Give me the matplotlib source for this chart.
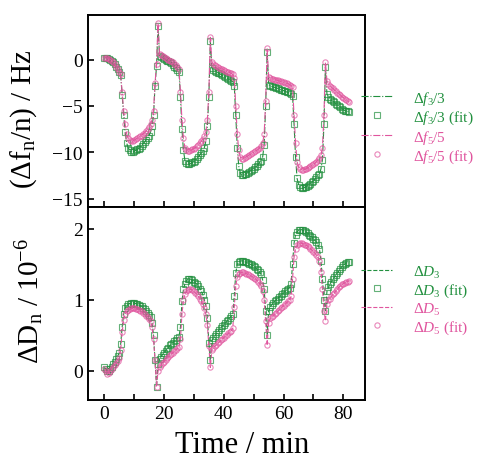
import matplotlib
matplotlib.use('Agg')
import matplotlib.pyplot as plt
import numpy as np

plt.rcParams['font.family'] = 'Liberation Serif'
plt.rcParams['mathtext.fontset'] = 'custom'
plt.rcParams['mathtext.rm'] = 'Liberation Serif'
plt.rcParams['mathtext.it'] = 'Liberation Serif:italic'

# time grid of the readings (min), one reading every 0.5 min
time = np.arange(0, 82.5, 0.5)

# frequency shift of 3rd overtone, divided by 3 (Hz)
df3 = [0.2, 0.2, 0.15, 0.1, 0.0, -0.1, -0.3, -0.5, -0.8, -1.0,
       -1.3, -1.7, -3.8, -6.0, -7.8, -9.0, -9.5, -9.8, -10.0, -10.0,
       -9.9, -9.8, -9.7, -9.6, -9.5, -9.3, -9.1, -8.9, -8.7, -8.5,
       -8.2, -7.8, -7.2, -6.0, -2.8, -0.7, 3.6, 0.4, 0.3, 0.2,
       0.1, 0.0, -0.1, -0.2, -0.3, -0.4, -0.6, -0.8, -0.9, -1.1,
       -1.3, -4.0, -7.5, -9.8, -10.9, -11.2, -11.3, -11.3, -11.2, -11.1,
       -11.0, -10.9, -10.7, -10.5, -10.3, -10.1, -9.9, -9.5, -8.8, -7.2,
       -4.0, 2.0, -0.9, -1.1, -1.2, -1.3, -1.4, -1.5, -1.6, -1.7,
       -1.8, -1.9, -2.0, -2.1, -2.2, -2.3, -2.4, -2.8, -6.0, -9.5,
       -11.5, -12.2, -12.5, -12.5, -12.4, -12.3, -12.2, -12.1, -12.0, -11.9,
       -11.8, -11.6, -11.5, -11.3, -11.1, -10.9, -10.5, -9.2, -5.0, 0.8,
       -2.7, -2.8, -2.9, -2.95, -3.0, -3.05, -3.1, -3.2, -3.25, -3.3,
       -3.35, -3.4, -3.5, -3.55, -3.6, -3.7, -3.9, -7.0, -10.5, -12.8,
       -13.5, -13.8, -13.9, -13.9, -13.8, -13.7, -13.6, -13.5, -13.4, -13.2,
       -13.1, -12.9, -12.7, -12.5, -12.3, -11.8, -10.8, -7.0, -0.8, -3.7,
       -4.0, -4.2, -4.4, -4.5, -4.6, -4.8, -4.9, -5.0, -5.1, -5.3,
       -5.4, -5.5, -5.6, -5.6, -5.7]

# frequency shift of 5th overtone, divided by 5 (Hz)
df5 = [0.2, 0.2, 0.15, 0.1, 0.0, -0.1, -0.3, -0.5, -0.8, -1.0,
       -1.3, -1.6, -3.5, -5.5, -7.0, -8.0, -8.5, -8.7, -8.8, -8.8,
       -8.7, -8.6, -8.5, -8.4, -8.3, -8.2, -8.0, -7.9, -7.7, -7.5,
       -7.3, -7.0, -6.5, -5.5, -2.5, -0.5, 4.0, 0.6, 0.5, 0.4,
       0.3, 0.2, 0.1, 0.0, -0.1, -0.2, -0.3, -0.5, -0.6, -0.8,
       -1.0, -3.5, -6.5, -8.5, -9.5, -9.8, -9.9, -9.9, -9.8, -9.7,
       -9.6, -9.5, -9.3, -9.2, -9.0, -8.8, -8.6, -8.3, -7.8, -6.5,
       -3.5, 2.4, -0.3, -0.5, -0.6, -0.7, -0.8, -0.9, -1.0, -1.0,
       -1.1, -1.2, -1.3, -1.3, -1.4, -1.5, -1.6, -2.0, -5.0, -8.0,
       -9.8, -10.5, -10.7, -10.7, -10.6, -10.5, -10.4, -10.3, -10.2, -10.1,
       -10.0, -9.9, -9.8, -9.7, -9.5, -9.3, -9.0, -8.0, -4.5, 1.2,
       -1.9, -2.0, -2.05, -2.1, -2.15, -2.2, -2.25, -2.3, -2.35, -2.4,
       -2.45, -2.5, -2.55, -2.6, -2.7, -2.8, -3.0, -6.0, -9.0, -11.0,
       -11.6, -11.8, -11.9, -11.9, -11.85, -11.8, -11.7, -11.6, -11.5, -11.4,
       -11.3, -11.2, -11.0, -10.8, -10.6, -10.3, -9.5, -6.0, -0.3, -2.3,
       -2.6, -2.8, -3.0, -3.1, -3.3, -3.4, -3.6, -3.7, -3.8, -4.0,
       -4.1, -4.3, -4.4, -4.5, -4.6]

# dissipation shift, 3rd overtone (1e-6)
dD3 = [0.05, 0.03, 0.0, 0.0, 0.03, 0.06, 0.10, 0.13, 0.17, 0.21,
       0.25, 0.38, 0.62, 0.80, 0.88, 0.92, 0.94, 0.95, 0.96, 0.96,
       0.96, 0.95, 0.94, 0.93, 0.92, 0.91, 0.89, 0.87, 0.85, 0.82,
       0.79, 0.76, 0.68, 0.50, 0.15, -0.22, 0.10, 0.17, 0.20, 0.23,
       0.26, 0.28, 0.31, 0.33, 0.36, 0.38, 0.40, 0.42, 0.44, 0.46,
       0.48, 0.62, 0.98, 1.15, 1.23, 1.27, 1.29, 1.30, 1.29, 1.28,
       1.26, 1.24, 1.22, 1.19, 1.16, 1.12, 1.07, 1.00, 0.92, 0.75,
       0.40, 0.15, 0.43, 0.46, 0.49, 0.52, 0.55, 0.58, 0.61, 0.63,
       0.65, 0.67, 0.70, 0.72, 0.75, 0.77, 0.80, 1.05, 1.38, 1.50,
       1.53, 1.55, 1.55, 1.55, 1.54, 1.53, 1.52, 1.51, 1.50, 1.49,
       1.48, 1.46, 1.44, 1.42, 1.39, 1.36, 1.28, 1.15, 0.85, 0.50,
       0.85, 0.90, 0.93, 0.96, 0.98, 1.00, 1.02, 1.04, 1.06, 1.08,
       1.10, 1.12, 1.14, 1.16, 1.17, 1.22, 1.50, 1.80, 1.92, 1.96,
       1.98, 1.99, 1.99, 1.98, 1.97, 1.96, 1.94, 1.92, 1.90, 1.88,
       1.86, 1.84, 1.81, 1.78, 1.72, 1.55, 1.30, 1.00, 0.85, 1.12,
       1.18, 1.22, 1.26, 1.29, 1.32, 1.35, 1.38, 1.41, 1.44, 1.47,
       1.49, 1.51, 1.52, 1.53, 1.54]

# dissipation shift, 5th overtone (1e-6)
dD5 = [0.03, 0.0, -0.04, -0.03, 0.0, 0.03, 0.06, 0.09, 0.11, 0.14,
       0.18, 0.30, 0.55, 0.72, 0.80, 0.84, 0.86, 0.87, 0.88, 0.88,
       0.88, 0.87, 0.87, 0.86, 0.85, 0.84, 0.82, 0.80, 0.78, 0.76,
       0.73, 0.70, 0.62, 0.45, 0.15, -0.22, 0.00, 0.05, 0.08, 0.11,
       0.13, 0.16, 0.18, 0.20, 0.22, 0.24, 0.26, 0.28, 0.30, 0.32,
       0.34, 0.45, 0.80, 1.00, 1.08, 1.12, 1.14, 1.15, 1.15, 1.14,
       1.12, 1.10, 1.08, 1.05, 1.02, 0.98, 0.94, 0.88, 0.80, 0.65,
       0.35, 0.05, 0.30, 0.33, 0.35, 0.37, 0.39, 0.41, 0.43, 0.45,
       0.47, 0.49, 0.51, 0.53, 0.55, 0.57, 0.60, 0.90, 1.20, 1.32,
       1.36, 1.38, 1.39, 1.39, 1.38, 1.37, 1.36, 1.35, 1.34, 1.33,
       1.31, 1.30, 1.28, 1.26, 1.23, 1.20, 1.12, 1.00, 0.70, 0.36,
       0.68, 0.74, 0.76, 0.78, 0.80, 0.82, 0.84, 0.86, 0.88, 0.90,
       0.92, 0.94, 0.96, 0.98, 1.00, 1.05, 1.30, 1.60, 1.72, 1.77,
       1.79, 1.80, 1.80, 1.79, 1.78, 1.77, 1.76, 1.74, 1.72, 1.70,
       1.68, 1.66, 1.63, 1.60, 1.55, 1.40, 1.15, 0.85, 0.71, 0.95,
       1.00, 1.02, 1.05, 1.08, 1.10, 1.13, 1.15, 1.18, 1.20, 1.22,
       1.23, 1.24, 1.25, 1.26, 1.27]

green = '#22903f'
pink = '#e0559e'

fig = plt.figure(figsize=(4.85, 4.60), dpi=100)
ax1 = fig.add_axes([0.181, 0.548, 0.572, 0.417])
ax2 = fig.add_axes([0.181, 0.128, 0.572, 0.420], sharex=ax1)

mk = dict(ls='none', ms=3.8, mfc='none', mew=0.8, alpha=0.7)

# top panel: frequency
l1, = ax1.plot(time, df3, color=green, ls='-.', lw=0.8)
m1, = ax1.plot(time, df3, marker='s', mec=green, **mk)
l2, = ax1.plot(time, df5, color=pink, ls='-.', lw=0.8)
m2, = ax1.plot(time, df5, marker='o', mec=pink, **mk)

# bottom panel: dissipation
l3, = ax2.plot(time, dD3, color=green, ls='--', lw=0.8)
m3, = ax2.plot(time, dD3, marker='s', mec=green, **mk)
l4, = ax2.plot(time, dD5, color=pink, ls='--', lw=0.8)
m4, = ax2.plot(time, dD5, marker='o', mec=pink, **mk)

ax1.set_xlim(-5.5, 87.3)
ax1.set_ylim(-15.9, 4.8)
ax2.set_ylim(-0.41, 2.31)

ax1.set_yticks([0, -5, -10, -15])
ax2.set_yticks([0, 1, 2])
ax2.set_xticks(np.arange(0, 90, 10))
ax2.set_xticklabels(['0', '', '20', '', '40', '', '60', '', '80'])

for ax in (ax1, ax2):
    for s in ax.spines.values():
        s.set_linewidth(1.4)
    ax.tick_params(direction='in', length=4, width=1.2, labelsize=14)
ax1.tick_params(axis='x', labelbottom=False)

ax1.set_ylabel(r'$(\Delta\mathrm{f}_\mathrm{n}/\mathrm{n})$ / Hz', fontsize=21)
ax2.set_ylabel(r'$\Delta\mathrm{D}_\mathrm{n}$ / 10$^{-6}$', fontsize=21)
ax1.yaxis.set_label_coords(-0.175, 0.46)
ax2.yaxis.set_label_coords(-0.15, 0.52)
ax2.set_xlabel('Time / min', fontsize=22)
ax2.xaxis.set_label_coords(0.556, -0.155)

leg_kw = dict(loc='upper left', frameon=False, fontsize=11, handlelength=2.0,
              handletextpad=1.4, labelspacing=0.12, borderaxespad=0, borderpad=0)
leg1 = fig.legend([l1, m1, l2, m2],
                  [r'$\Delta f_3/3$', r'$\Delta f_3/3$ (fit)', r'$\Delta f_5/5$', r'$\Delta f_5/5$ (fit)'],
                  bbox_to_anchor=(0.745, 0.805), **leg_kw)
leg2 = fig.legend([l3, m3, l4, m4],
                  [r'$\Delta D_3$', r'$\Delta D_3$ (fit)', r'$\Delta D_5$', r'$\Delta D_5$ (fit)'],
                  bbox_to_anchor=(0.745, 0.425), **leg_kw)
for leg in (leg1, leg2):
    for txt, c in zip(leg.get_texts(), [green, green, pink, pink]):
        txt.set_color(c)

fig.savefig('out.png', dpi=100)
